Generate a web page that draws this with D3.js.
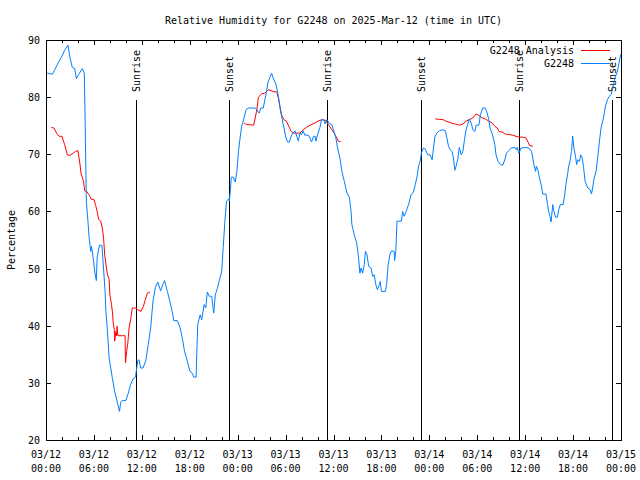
<!DOCTYPE html>
<html><head><meta charset="utf-8">
<script src="https://cdn.jsdelivr.net/npm/d3@7"></script>
<style>body{margin:0;background:#fff}svg{display:block}text{font-family:"DejaVu Sans Mono",monospace;font-size:10px;fill:#000}</style>
</head><body><svg id="c" width="640" height="480"></svg>
<script>
// hours since 2025-03-12 00:00 UTC
const obsHours=[0.15,0.8,1.2,1.6,2.0,2.3,2.75,3.0,3.3,3.6,3.8,4.1,4.55,4.8,4.9,5.05,5.25,5.4,5.6,5.7,5.9,6.1,6.3,6.4,6.7,7.0,7.2,7.4,7.5,7.7,7.9,8.3,8.6,8.9,9.2,9.35,9.55,10.0,10.3,10.6,10.9,11.2,11.3,11.5,11.65,11.85,12.15,12.5,12.8,13.1,13.4,13.7,14.0,14.35,14.65,14.85,15.2,15.5,15.8,16.0,16.45,16.8,17.1,17.35,17.7,18.0,18.3,18.5,18.8,18.85,19.0,19.3,19.5,19.8,20.0,20.2,20.45,20.75,21.0,21.2,21.45,21.7,22.0,22.2,22.4,22.6,22.9,22.95,23.1,23.2,23.45,23.7,23.9,24.1,24.3,24.5,24.8,25.05,25.3,26.2,26.4,26.7,26.9,27.2,27.55,27.8,28.05,28.25,28.45,28.8,29.1,29.3,29.5,29.8,30.05,30.25,30.5,30.6,30.9,31.2,31.4,31.6,31.8,32.0,32.2,32.4,32.85,33.05,33.25,33.5,33.7,33.8,34.0,34.3,34.5,34.8,34.95,35.15,35.5,35.75,36.0,36.3,36.5,36.8,37.05,37.35,37.65,38.0,38.2,38.3,38.6,38.9,39.1,39.25,39.3,39.45,39.65,39.85,40.0,40.2,40.4,40.7,40.9,41.1,41.3,41.5,41.75,41.85,42.0,42.5,42.65,42.85,43.1,43.3,43.6,43.65,43.8,43.95,44.5,44.65,44.85,45.1,45.4,45.7,46.0,46.25,46.5,46.65,46.85,47.0,47.25,47.5,47.8,48.1,48.35,48.5,48.7,48.95,49.25,49.7,50.0,50.2,50.4,50.6,50.85,51.0,51.2,51.35,51.55,51.75,52.0,52.2,52.4,52.6,52.8,53.0,53.25,53.45,53.7,53.85,54.2,54.4,54.7,55.0,55.2,55.45,55.6,55.9,56.2,56.35,56.6,56.9,57.2,57.45,57.65,57.95,58.25,58.7,58.9,59.0,59.2,59.5,60.0,60.45,60.8,60.95,61.1,61.3,61.4,61.6,61.8,62.0,62.2,62.6,62.8,62.95,63.15,63.25,63.45,63.6,63.8,64.05,64.2,64.4,64.75,64.95,65.1,65.3,65.45,65.6,65.8,65.95,66.1,66.3,66.45,66.6,66.8,66.95,67.1,67.3,67.5,67.85,68.15,68.3,68.45,68.6,68.9,69.1,69.3,69.5,69.8,70.05,70.3,70.55,70.8,71.05,71.3,71.55,71.8,71.95];
const obsValues=[84.2,84.0,85.1,86.2,87.2,88.1,89.1,86.9,85.2,85.0,83.2,84.0,85.0,84.2,75.8,61.8,58.3,55.4,53.0,53.9,51.9,49.5,47.9,51.9,54.1,54.1,50.1,46.0,42.5,39.0,34.4,30.9,28.5,26.8,25.0,26.5,26.9,26.9,28.2,29.7,30.7,31.0,32.0,33.9,34.05,32.6,32.6,33.9,36.7,39.6,44.3,46.7,47.65,46.1,47.3,47.9,46.0,44.3,42.5,40.9,40.9,39.6,37.55,35.5,33.8,32.1,31.7,31.0,31.0,33.8,40.2,41.9,41.05,43.7,43.1,45.9,45.15,45.15,42.2,45.4,46.5,47.9,49.5,53.9,58.3,61.8,62.2,61.8,63.8,66.0,66.0,65.15,67.0,70.5,72.85,74.9,76.35,77.8,78.1,78.1,77.8,77.2,78.1,78.1,80.55,82.65,83.5,84.2,83.35,82.2,80.15,78.1,76.65,74.6,72.85,72.15,72.15,72.85,73.7,74.1,73.15,72.3,73.7,73.4,74.1,73.35,73.35,72.85,72.15,73.15,73.15,72.3,73.4,74.7,76.05,76.05,75.3,76.05,75.3,75.3,74.3,72.85,71.2,69.35,67.0,65.3,63.4,62.35,60.0,57.7,55.9,54.5,52.4,50.1,49.2,50.1,49.2,50.7,53.0,52.4,50.4,50.1,48.6,48.9,47.2,46.3,47.2,47.75,46.0,46.0,47.2,50.7,52.7,53.1,53.0,51.4,53.0,58.3,58.3,60.0,59.15,60.0,61.2,62.9,63.4,64.7,66.4,67.9,68.75,70.2,71.1,70.9,69.9,69.9,69.05,70.8,73.15,73.7,74.1,74.3,74.1,72.85,71.4,70.8,70.5,69.5,67.2,67.9,69.05,71.2,69.9,70.5,72.55,74.3,75.2,76.2,75.45,74.3,74.0,75.1,75.1,76.9,78.1,78.1,77.4,76.05,74.6,73.45,71.7,69.9,68.75,68.2,68.1,69.05,70.2,70.65,71.1,71.2,70.8,71.2,70.2,71.1,71.2,71.1,70.5,69.35,68.2,67.0,67.9,67.2,65.85,64.7,63.05,63.05,61.2,60.0,58.85,58.15,61.2,60.0,59.0,59.0,60.3,61.2,61.2,62.9,64.7,66.4,67.9,68.75,70.5,73.15,71.1,69.65,68.2,69.05,68.75,69.9,69.65,67.9,65.3,64.1,63.8,63.05,64.1,65.55,67.2,69.65,72.3,74.6,76.35,78.4,79.55,80.15,80.55,82.2,83.65,84.5,86.3,87.45];
// analysis; null marks a gap
const anaHours=[0.67,1.0,1.33,1.63,2.0,2.33,2.67,3.0,3.4,3.7,4.0,4.25,4.4,4.7,4.85,5.1,5.4,5.7,6.0,6.2,6.4,6.6,6.85,7.05,7.2,7.35,7.5,7.7,7.9,8.0,8.2,8.35,8.4,8.55,8.6,8.75,8.85,8.9,9.0,9.9,9.95,10.1,10.25,10.4,10.6,10.8,11.2,11.5,11.9,12.2,12.4,12.7,13.0,18.0,24.8,25.1,26.0,26.2,26.4,26.6,27.0,27.4,27.85,28.45,28.9,29.1,29.3,29.5,29.8,30.1,30.4,30.7,31.0,31.8,32.2,32.6,33.1,33.7,34.2,34.65,35.05,35.35,35.65,36.0,36.3,36.6,36.9,42.0,48.75,49.25,49.75,50.1,50.7,51.25,51.75,52.2,52.6,53.0,53.45,53.85,54.2,54.5,55.0,55.45,55.85,56.2,56.5,56.75,57.1,57.5,57.95,58.45,58.85,59.25,59.7,60.1,60.35,60.55,60.95];
const anaValues=[74.7,74.6,73.7,73.15,73.15,71.7,69.9,69.8,70.2,70.5,70.65,68.3,66.55,65.3,63.6,63.5,62.9,62.1,62.1,61.2,60.0,58.55,58.3,57.1,55.5,52.4,50.8,48.9,48.2,45.4,43.7,42.05,40.65,39.3,37.3,39.0,38.25,39.9,38.25,38.25,33.5,35.5,37.0,39.6,41.05,43.1,43.1,42.8,42.5,43.4,44.4,45.7,45.9,null,75.5,75.2,75.1,76.35,77.8,80.0,80.55,80.7,81.3,81.0,80.9,79.8,78.4,76.9,76.05,75.8,74.9,74.0,73.7,73.7,74.3,74.7,75.1,75.5,75.9,76.05,75.9,75.2,74.6,73.9,73.15,72.3,72.2,null,76.2,76.1,76.05,75.8,75.5,75.3,75.1,75.3,75.8,76.05,76.35,77.05,76.8,76.45,76.2,75.8,75.5,74.9,74.6,74.0,73.9,73.55,73.45,73.35,73.15,73.0,73.0,72.85,72.15,71.55,71.4];
const sunHours=[11.33,22.95,35.2,47.0,59.25,70.87];
const sunLabels=["Sunrise","Sunset","Sunrise","Sunset","Sunrise","Sunset"];
const yTicks=[20,30,40,50,60,70,80,90];
const seriesNames=["G2248 Analysis","G2248"];
const seriesColors=["#ff0000","#0080ff"];
const title="Relative Humidity for G2248 on 2025-Mar-12 (time in UTC)";

const base=Date.UTC(2025,2,12,0,0);
const t=h=>new Date(base+h*3600000);
const L=46,R=621,T=40,B=440;
const svg=d3.select("#c");
const x=d3.scaleUtc().domain([t(0),t(72)]).range([L,R]);
const y=d3.scaleLinear().domain([20,90]).range([B,T]);

svg.append("text").attr("x",(L+R)/2).attr("y",24).attr("text-anchor","middle").text(title);
svg.append("text").attr("transform","translate(15,240) rotate(-90)").attr("text-anchor","middle").text("Percentage");

const g=svg.append("g").attr("shape-rendering","crispEdges");
const majors=d3.range(0,73,6).map(t), minors=d3.range(0,73,2).map(t);
minors.forEach(d=>{const xx=Math.round(x(d))+0.5;
  g.append("line").attr("x1",xx).attr("x2",xx).attr("y1",B).attr("y2",B-3).attr("stroke","#000");
  g.append("line").attr("x1",xx).attr("x2",xx).attr("y1",T).attr("y2",T+3).attr("stroke","#000");});
majors.forEach(d=>{const xx=Math.round(x(d))+0.5;
  g.append("line").attr("x1",xx).attr("x2",xx).attr("y1",B).attr("y2",B-5).attr("stroke","#000");
  g.append("line").attr("x1",xx).attr("x2",xx).attr("y1",T).attr("y2",T+5).attr("stroke","#000");});
yTicks.forEach(v=>{const yy=Math.round(y(v))+0.5;
  g.append("line").attr("x1",L).attr("x2",L+5).attr("y1",yy).attr("y2",yy).attr("stroke","#000");
  g.append("line").attr("x1",R).attr("x2",R-5).attr("y1",yy).attr("y2",yy).attr("stroke","#000");
  svg.append("text").attr("x",40).attr("y",yy+3.5).attr("text-anchor","end").text(v);});
const fmtD=d3.utcFormat("%m/%d"),fmtT=d3.utcFormat("%H:%M");
majors.forEach(d=>{const xx=x(d);
  svg.append("text").attr("x",xx).attr("y",458).attr("text-anchor","middle").text(fmtD(d));
  svg.append("text").attr("x",xx).attr("y",472).attr("text-anchor","middle").text(fmtT(d));});

sunHours.forEach((h,i)=>{const xx=Math.round(x(t(h)))+0.5;
  g.append("line").attr("x1",xx).attr("x2",xx).attr("y1",100).attr("y2",B).attr("stroke","#000");
  svg.append("text").attr("transform",`translate(${xx+3.5},92) rotate(-90)`).attr("text-anchor","start").text(sunLabels[i]);});

const obs=obsHours.map((h,i)=>({d:t(h),v:obsValues[i]}));
const ana=anaHours.map((h,i)=>({d:t(h),v:anaValues[i]}));
const line=d3.line().defined(p=>p.v!=null).x(p=>x(p.d)).y(p=>y(p.v));
svg.append("path").datum(ana).attr("d",line).attr("fill","none").attr("stroke",seriesColors[0]).attr("stroke-width",1);
svg.append("path").datum(obs).attr("d",line).attr("fill","none").attr("stroke",seriesColors[1]).attr("stroke-width",1);

seriesNames.forEach((n,i)=>{const yy=50+i*13;
  svg.append("text").attr("x",574).attr("y",yy+3.5).attr("text-anchor","end").text(n);
  g.append("line").attr("x1",581).attr("x2",610).attr("y1",yy+0.5).attr("y2",yy+0.5).attr("stroke",seriesColors[i]);});

g.append("rect").attr("x",L+0.5).attr("y",T+0.5).attr("width",R-L).attr("height",B-T).attr("fill","none").attr("stroke","#000");
</script></body></html>
